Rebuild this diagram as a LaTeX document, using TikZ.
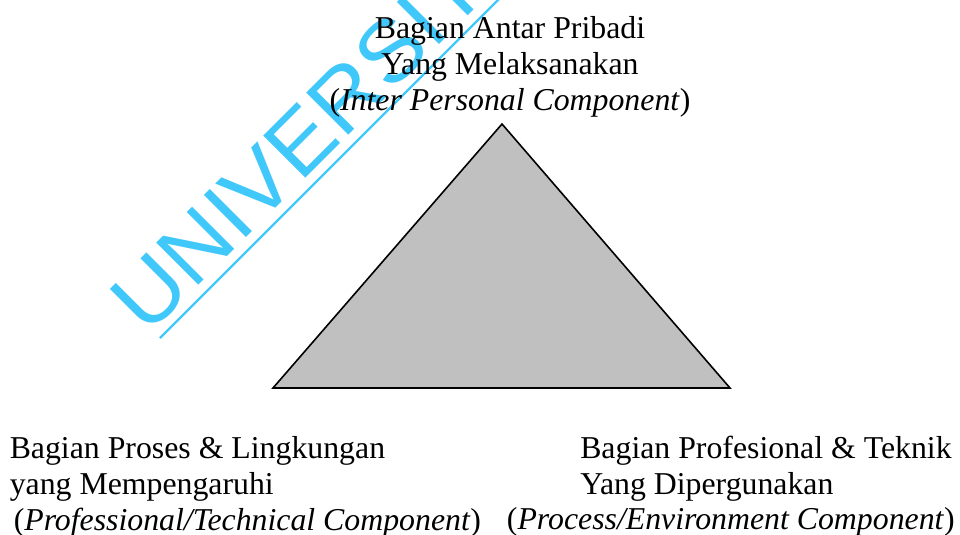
\documentclass[tikz,border=0pt]{standalone}
\usepackage{fontspec}
\setmainfont{Liberation Serif}
\newfontfamily\wmfont[FakeStretch=1.05]{Liberation Sans}
\usepackage{tikz}
\usetikzlibrary{positioning}
\definecolor{wmcyan}{RGB}{64,200,250}
\definecolor{trigray}{RGB}{192,192,192}
\tikzstyle{cornertext} = [inner sep=0pt,
    font=\fontsize{23.85}{27}\selectfont]
\tikzstyle{triangle} = [fill=trigray, draw=black, line width=1.2pt,
    line join=miter]

\begin{document}
\begin{tikzpicture}[x=0.75pt, y=-0.75pt,
    watermark/.style={text=wmcyan, inner sep=0pt,
    font=\wmfont\fontsize{65}{65}\selectfont,
    rotate=45, anchor=base west},
    wmline/.style={draw=wmcyan, line width=1.6pt}
    ]
  \useasboundingbox (0,0) rectangle (960,535);
  % watermark
  \node[watermark] (wm) at (147,337) {UNIVERSITAS};
  \coordinate (wmstart) at (160,338);
  \coordinate (wmend) at (510,-12);
  \draw[wmline] (wmstart) -- (wmend);
  % triangle
  \coordinate (apex) at (502,124);
  \coordinate (bl) at (273,388);
  \coordinate (br) at (730,388);
  \path[triangle] (bl) -- (apex) -- (br) -- cycle;
  % texts
  \node[cornertext, align=center, anchor=north] (inter) at (510,16)
    {Bagian Antar Pribadi\\Yang Melaksanakan\\(\textit{Inter Personal Component})};
  \node[cornertext, align=left, anchor=north west] (proses) at (9.5,436)
    {Bagian Proses \& Lingkungan\\yang Mempengaruhi\\
     \hspace*{3pt}(\textit{Professional/Technical Component})};
  \node[cornertext, align=left, anchor=north west] (profesional) at (580,436)
    {Bagian Profesional \& Teknik\\Yang Dipergunakan};
  \node[cornertext, anchor=base east] (process) at (955,529)
    {(\textit{Process/Environment Component})};
\end{tikzpicture}
\end{document}
